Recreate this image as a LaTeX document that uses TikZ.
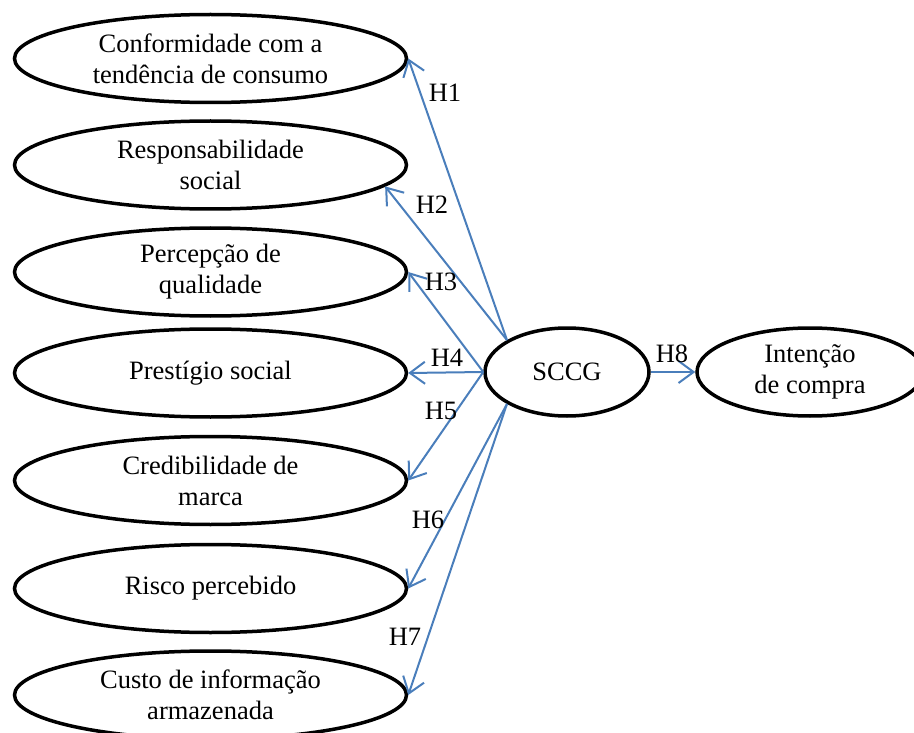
\documentclass[tikz,border=0pt]{standalone}
\usepackage{fontspec}
\setmainfont{Liberation Serif}
\usetikzlibrary{arrows.meta,shapes.geometric}
\definecolor{lineblue}{RGB}{74,126,187}
\tikzset{
  ell/.style={ellipse, draw=black, line width=3.5pt, inner sep=0pt, align=center,
    font=\fontsize{26.5}{31}\selectfont},
  lell/.style={ell, minimum width=392pt, minimum height=88pt},
  arr/.style={draw=lineblue, line width=2pt, -{Straight Barb[length=15pt,width=22pt]}},
  hlab/.style={inner sep=0pt, font=\fontsize{26.5}{31}\selectfont}
}
\begin{document}
\begin{tikzpicture}[x=1pt,y=-1pt]
\useasboundingbox (0,0) rectangle (914,733);
\clip (0,0) rectangle (914,733);
\node[lell] (e1) at (210.5,58.5) {Conformidade com a\\tendência de consumo};
\node[lell] (e2) at (210.5,165) {Responsabilidade\\social};
\node[lell] (e3) at (210.5,272) {Percepção de\\qualidade};
\node[lell] (e4) at (210.5,373) {Prestígio social};
\node[lell] (e5) at (210.5,480.5) {Credibilidade de\\marca};
\node[lell] (e6) at (210.5,588.5) {Risco percebido};
\node[lell] (e7) at (210.5,695) {Custo de informação\\armazenada};
\node[ell, minimum width=164pt, minimum height=88pt] (s) at (567,372) {SCCG};
\node[ell, minimum width=226pt, minimum height=88pt] (t) at (810,372) {Intenção\\de compra};
\draw[arr] (s.152) -- (e1.east);
\draw[arr] (s.152) -- (e2.-7);
\draw[arr] (s.west) -- (e3.east);
\draw[arr] (s.west) -- (e4.east);
\draw[arr] (s.west) -- (e5.east);
\draw[arr] (s.208) -- (e6.east);
\draw[arr] (s.208) -- (e7.east);
\draw[arr] (s.east) -- (t.west);
\node[hlab] (h1) at (445,93) {H1};
\node[hlab] (h2) at (432,205) {H2};
\node[hlab] (h3) at (441,282) {H3};
\node[hlab] (h4) at (447,358) {H4};
\node[hlab] (h5) at (441,411) {H5};
\node[hlab] (h6) at (428,520) {H6};
\node[hlab] (h7) at (405,637) {H7};
\node[hlab] (h8) at (672,354) {H8};
\end{tikzpicture}
\end{document}
